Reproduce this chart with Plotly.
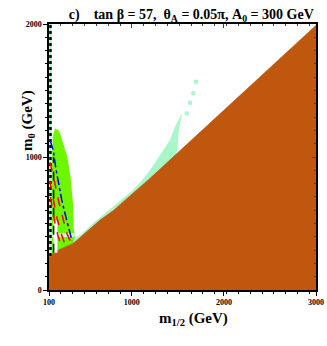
import plotly.graph_objects as go

# ============================================================
# Data
# ============================================================
# stau-LSP boundary (brown region lies below it)
bd_m12 = [100, 200, 364, 500, 654, 800, 925, 1050, 1197, 1600, 2000, 2500, 3000]
bd_m0 = [252, 300, 351, 435, 526, 600, 677, 755, 840, 1097, 1352, 1671, 1990]

# bright green blob
grn_m12 = [128, 128, 140, 165, 210, 263, 299, 335, 352, 364, 364, 385, 385, 128]
grn_m0 = [240, 900, 1150, 1215, 1200, 1090, 1002, 842, 714, 626, 476, 400, 300, 240]

# pale band near m0 ~ 400
pale_m12 = [130, 380, 380, 130]
pale_m0 = [398, 398, 428, 428]

# mint strip along the boundary
mint_m12 = [370, 450, 600, 800, 1000, 1100, 1197, 1306, 1414, 1468, 1523, 1545, 1510, 1487,
            1300, 1100, 900, 700, 500, 370]
mint_m0 = [385, 420, 515, 628, 745, 815, 900, 1015, 1128, 1228, 1303, 1330, 1200, 1020,
           900, 775, 660, 550, 425, 350]
speck_m12 = [1596, 1631, 1668, 1697]
speck_m0 = [1328, 1408, 1479, 1566]

# contour lines
blue_m12 = [115, 147, 173, 209, 238, 290, 328, 350]
blue_m0 = [1120, 1050, 920, 780, 677, 530, 428, 370]
red1_m12 = [110, 150, 201, 250, 292, 330]
red1_m0 = [960, 850, 677, 540, 428, 370]
red2_m12 = [110, 140, 180, 230, 270]
red2_m0 = [820, 700, 560, 430, 350]
red3_m12 = [115, 135, 160, 200, 240]
red3_m0 = [700, 620, 520, 400, 320]

BROWN = "#BF580E"
GREEN = "#6EF500"
MINT = "#A8F7C8"

fig = go.Figure()

# ── regions ────────────────────────────────────────────────
fig.add_trace(go.Scatter(x=grn_m12, y=grn_m0, fill="toself", fillcolor=GREEN,
                         line=dict(width=0), mode="lines", hoverinfo="skip"))
fig.add_trace(go.Scatter(x=pale_m12, y=pale_m0, fill="toself", fillcolor="#C9F5D6",
                         line=dict(width=0), mode="lines", hoverinfo="skip"))
fig.add_trace(go.Scatter(x=mint_m12, y=mint_m0, fill="toself", fillcolor=MINT,
                         line=dict(width=0), mode="lines", hoverinfo="skip"))
fig.add_trace(go.Scatter(x=speck_m12, y=speck_m0, mode="markers",
                         marker=dict(color=MINT, size=4, symbol="square"), hoverinfo="skip"))

# brown excluded region
fig.add_trace(go.Scatter(x=bd_m12 + [3000, 100], y=bd_m0 + [0, 0], fill="toself",
                         fillcolor=BROWN, line=dict(color=BROWN, width=0.5),
                         mode="lines", hoverinfo="skip"))

# ── lines ──────────────────────────────────────────────────
fig.add_trace(go.Scatter(x=[170, 170], y=[280, 520], mode="lines",
                         line=dict(color="white", width=4)))
fig.add_trace(go.Scatter(x=[150, 150], y=[280, 1000], mode="lines",
                         line=dict(color="black", width=1.5, dash="dash")))
fig.add_trace(go.Scatter(x=[116, 116], y=[255, 2000], mode="lines",
                         line=dict(color=MINT, width=2.5)))
fig.add_trace(go.Scatter(x=[116, 116], y=[255, 2000], mode="lines",
                         line=dict(color="black", width=2.5, dash="3px,3px")))
for xs, ys in [(red1_m12, red1_m0), (red2_m12, red2_m0), (red3_m12, red3_m0)]:
    fig.add_trace(go.Scatter(x=xs, y=ys, mode="lines",
                             line=dict(color="red", width=1.5, dash="dash")))
fig.add_trace(go.Scatter(x=blue_m12, y=blue_m0, mode="lines",
                         line=dict(color="blue", width=1.5, dash="dashdot")))

# invisible trace for top/right tick axes
fig.add_trace(go.Scatter(x=[100], y=[0], xaxis="x2", yaxis="y2", mode="markers",
                         marker=dict(opacity=0), hoverinfo="skip"))

# ── layout ─────────────────────────────────────────────────
tfont = dict(family="Liberation Serif", size=8, color="black", weight="bold")
minor_x = [100 + i * 900 / 7 for i in range(1, 23)]
fig.update_layout(
    width=327, height=346,
    margin=dict(l=49, r=11, t=24, b=56, autoexpand=False),
    plot_bgcolor="white", paper_bgcolor="white",
    showlegend=False,
    title=dict(text="c)    tan β = 57,  θ<sub>A</sub> = 0.05π, A<sub>0</sub> = 300 GeV",
               font=dict(family="Liberation Serif", size=14, color="black", weight="bold"),
               x=0.585, xanchor="center", y=0.958, yanchor="middle"),
    xaxis=dict(range=[100, 3000], tickvals=[100, 1000, 2000, 3000],
               ticktext=["100", "1000", "2000", "3000"], tickfont=tfont,
               ticks="outside", ticklen=4, tickcolor="black", automargin=False,
               minor=dict(tickvals=minor_x, ticks="outside", ticklen=2, tickcolor="black"),
               showline=True, linecolor="black", linewidth=1.5, mirror=True,
               showgrid=False, zeroline=False),
    yaxis=dict(range=[0, 2000], tickvals=[0, 1000, 2000], tickfont=tfont,
               ticks="outside", ticklen=4, tickcolor="black", automargin=False,
               minor=dict(dtick=100, ticks="outside", ticklen=2, tickcolor="black"),
               showline=True, linecolor="black", linewidth=1.5, mirror=True,
               showgrid=False, zeroline=False),
    xaxis2=dict(range=[100, 3000], overlaying="x", side="top", showticklabels=False,
                tickvals=[100, 1000, 2000, 3000], ticks="inside", ticklen=4,
                minor=dict(tickvals=minor_x, ticks="inside", ticklen=2),
                showgrid=False, zeroline=False, automargin=False),
    yaxis2=dict(range=[0, 2000], overlaying="y", side="right", showticklabels=False,
                tickvals=[0, 1000, 2000], ticks="inside", ticklen=4,
                minor=dict(dtick=100, ticks="inside", ticklen=2),
                showgrid=False, zeroline=False, automargin=False),
    annotations=[
        dict(text="m<sub>1/2</sub> (GeV)", xref="paper", yref="paper",
             x=(193 - 49) / 267, y=-(330 - 290) / 266, showarrow=False,
             font=dict(family="Liberation Serif", size=15, color="black", weight="bold")),
        dict(text="m<sub>0</sub> (GeV)", xref="paper", yref="paper",
             x=-(49 - 17) / 267, y=(290 - 121) / 266, showarrow=False, textangle=-90,
             font=dict(family="Liberation Serif", size=15, color="black", weight="bold")),
    ],
)

# page body has a default 8px margin; drop it so the figure sits at the window corner
fig.write_html("out.html", config={"displayModeBar": False},
               post_script="document.body.style.margin='0px';document.body.style.overflow='hidden';")
